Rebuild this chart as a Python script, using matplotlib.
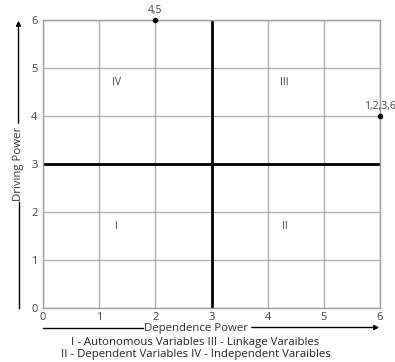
import matplotlib
matplotlib.use("Agg")
import matplotlib.pyplot as plt

plt.rcParams['font.family'] = ['Open Sans', 'DejaVu Sans']

# Data
point_x = [2, 6]
point_y = [6, 4]
point_labels = ["4,5", "1,2,3,6"]
quadrant_names = ["I", "II", "III", "IV"]
quadrant_x = [1.3, 4.3, 4.3, 1.3]
quadrant_y = [1.7, 1.7, 4.7, 4.7]
ticks = [0, 1, 2, 3, 4, 5, 6]
x_title = "Dependence Power"
y_title = "Driving Power"
caption = ["I - Autonomous Variables III - Linkage Varaibles",
           "II - Dependent Variables IV - Independent Varaibles"]

W, H = 395, 362
fig = plt.figure(figsize=(W/100, H/100), dpi=100)
L, R, T, B = 43, 380, 20, 308
ax = fig.add_axes([L/W, 1 - B/H, (R-L)/W, (B-T)/H])
ax.set_xlim(0, 6)
ax.set_ylim(0, 6)
ax.set_xticks(ticks)
ax.set_yticks(ticks)
ax.grid(True, color='#b0b0b0', linewidth=1.0)
ax.set_axisbelow(True)
for s in ax.spines.values():
    s.set_color('#a0a0a0')
    s.set_linewidth(1.0)
ax.tick_params(length=0, labelsize=8, colors='#444444')
ax.tick_params(axis='x', pad=3)
ax.tick_params(axis='y', pad=4)

ax.axvline(3, color='black', linewidth=2.0)
ax.axhline(3, color='black', linewidth=2.0)

ax.scatter(point_x, point_y, s=9, color='black', zorder=5, clip_on=False)
for x, y, lab in zip(point_x, point_y, point_labels):
    ax.annotate(lab, (x, y), xytext=(0, 3), textcoords='offset points',
                ha='center', va='bottom', fontsize=7.5, color='#444444',
                annotation_clip=False)

for n, x, y in zip(quadrant_names, quadrant_x, quadrant_y):
    ax.text(x, y, n, ha='center', va='center', fontsize=7.5, color='#444444')

# Y axis title with arrow
yx = 18.5 / W
fig.add_artist(plt.Line2D([yx, yx], [1 - 308/H, 1 - 202/H], color='black', lw=1.0,
                          transform=fig.transFigure))
fig.text(yx, 1 - 164/H, y_title, rotation=90, ha='center', va='center',
         fontsize=8.2, color='#333333')
fig.patches.append(matplotlib.patches.FancyArrowPatch(
    (yx, 1 - 126/H), (yx, 1 - 18/H), transform=fig.transFigure,
    arrowstyle='-|>', mutation_scale=7, color='black', lw=1.0))

# X axis title with arrow
xy = 1 - 327.5/H
fig.add_artist(plt.Line2D([43/W, 143/W], [xy, xy], color='black', lw=1.0,
                          transform=fig.transFigure))
fig.text(196/W, 1 - 331.5/H, x_title, ha='center', va='baseline', fontsize=8.2,
         color='#333333')
fig.patches.append(matplotlib.patches.FancyArrowPatch(
    (249/W, xy), (382/W, xy), transform=fig.transFigure,
    arrowstyle='-|>', mutation_scale=7, color='black', lw=1.0))

fig.text(195.5/W, 1 - 345/H, caption[0], ha='center', va='baseline', fontsize=8.2,
         color='#222222')
fig.text(195.5/W, 1 - 357.5/H, caption[1], ha='center', va='baseline', fontsize=8.2,
         color='#222222')

fig.savefig("out.png", dpi=100)
